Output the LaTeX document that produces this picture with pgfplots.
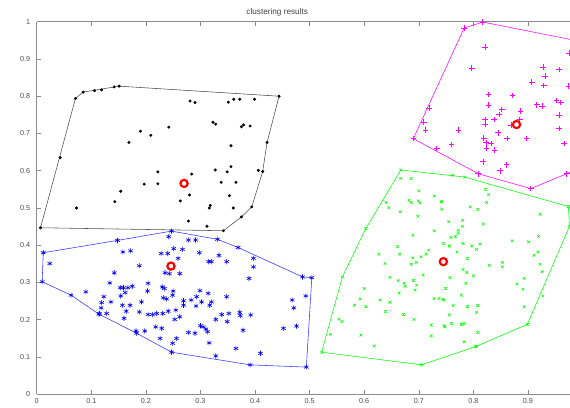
\documentclass[border=0pt]{standalone}
\usepackage{pgfplots}
\pgfplotsset{compat=1.18}
\usepackage{fontspec}
\setmainfont{Liberation Sans}
\definecolor{mlgreen}{RGB}{0,255,0}
\definecolor{mlmag}{RGB}{255,0,255}
\definecolor{mlblue}{RGB}{0,0,255}
\definecolor{mlred}{RGB}{255,0,0}
\begin{document}
\begin{tikzpicture}
\begin{axis}[
  scale only axis, width=533.3pt, height=372.6pt,
  xmin=0, xmax=0.977, ymin=0, ymax=1,
  axis x line*=box, axis y line*=left,
  xtick={0,0.1,0.2,0.3,0.4,0.5,0.6,0.7,0.8,0.9},
  ytick={0,0.1,0.2,0.3,0.4,0.5,0.6,0.7,0.8,0.9,1},
  tick align=inside, major tick length=4pt,
  axis line style={black!45, line width=0.6pt},
  tick style={black!45, line width=0.6pt},
  ticklabel style={font=\fontsize{7.2}{8}\selectfont, text=black!70},
  /pgf/number format/assume math mode=true,
  yticklabel style={xshift=-3pt},
  xticklabel style={yshift=-0.5pt},
  title={clustering results},
  title style={at={(0.451,1)}, anchor=base, yshift=1.3pt, font=\fontsize{8.2}{9}\selectfont, text=black!75},
  clip=true,
]
% ---------- black cluster ----------
\addplot[only marks, mark=*, mark size=1.3pt, black] coordinates {
(0.007,0.447)(0.071,0.794)(0.085,0.811)(0.106,0.815)(0.119,0.817)(0.142,0.825)(0.151,0.827)(0.444,0.800)(0.422,0.676)(0.414,0.598)(0.394,0.503)(0.375,0.476)(0.342,0.439)(0.312,0.451)
(0.043,0.635)(0.073,0.500)(0.281,0.787)(0.290,0.783)(0.351,0.784)(0.361,0.792)(0.372,0.792)(0.399,0.792)(0.190,0.706)(0.209,0.695)(0.242,0.717)(0.169,0.676)(0.323,0.730)(0.328,0.725)(0.375,0.718)(0.379,0.723)(0.391,0.720)(0.356,0.667)(0.406,0.601)(0.356,0.611)(0.327,0.602)(0.349,0.597)(0.284,0.591)(0.222,0.597)(0.222,0.565)(0.197,0.564)(0.338,0.569)(0.365,0.569)(0.154,0.545)(0.143,0.517)(0.280,0.535)(0.263,0.519)(0.353,0.533)(0.318,0.507)(0.316,0.500)(0.360,0.500)(0.278,0.465)
};
\addplot[black!70, line width=0.55pt, no marks] coordinates {
(0.007,0.447)(0.071,0.794)(0.085,0.811)(0.151,0.827)(0.444,0.800)(0.422,0.676)(0.414,0.598)(0.394,0.503)(0.375,0.476)(0.342,0.439)(0.007,0.447)
};
% ---------- blue cluster ----------
\addplot[only marks, mark=asterisk, mark size=2.6pt, mlblue, line width=0.6pt] coordinates {
(0.012,0.380)(0.010,0.302)(0.024,0.351)(0.063,0.266)(0.090,0.275)(0.114,0.215)(0.183,0.164)(0.247,0.113)(0.391,0.079)(0.494,0.073)(0.504,0.313)(0.487,0.315)(0.369,0.394)(0.331,0.416)(0.247,0.438)(0.148,0.413)
(0.158,0.382)(0.172,0.385)(0.188,0.345)(0.142,0.326)(0.134,0.299)(0.123,0.262)(0.119,0.246)(0.118,0.232)(0.115,0.217)(0.128,0.217)(0.136,0.248)(0.153,0.286)(0.159,0.286)(0.167,0.286)(0.175,0.290)(0.154,0.264)(0.162,0.273)(0.157,0.239)(0.171,0.239)(0.164,0.223)(0.160,0.204)(0.188,0.221)(0.192,0.248)(0.182,0.170)(0.198,0.170)(0.204,0.298)(0.203,0.277)(0.204,0.214)(0.212,0.214)(0.220,0.217)(0.231,0.217)(0.230,0.288)(0.234,0.284)(0.232,0.259)(0.238,0.256)(0.218,0.181)(0.229,0.177)(0.226,0.150)(0.249,0.137)(0.228,0.378)(0.240,0.378)(0.242,0.423)(0.251,0.391)(0.235,0.326)(0.243,0.324)(0.249,0.266)(0.250,0.277)(0.241,0.223)
(0.278,0.414)(0.291,0.414)(0.267,0.389)(0.259,0.365)(0.298,0.380)(0.334,0.373)(0.315,0.356)(0.320,0.356)(0.348,0.356)(0.397,0.365)(0.397,0.342)(0.389,0.311)(0.262,0.324)(0.299,0.278)(0.302,0.248)(0.314,0.271)(0.293,0.262)(0.292,0.237)(0.269,0.251)(0.269,0.239)(0.283,0.253)(0.317,0.239)(0.320,0.248)(0.348,0.262)(0.255,0.226)(0.262,0.208)(0.253,0.201)(0.339,0.214)(0.352,0.217)(0.372,0.220)(0.373,0.211)(0.392,0.213)(0.328,0.201)(0.349,0.195)(0.300,0.184)(0.305,0.181)(0.310,0.175)(0.313,0.168)(0.278,0.166)(0.290,0.164)(0.378,0.172)(0.256,0.150)(0.316,0.138)(0.365,0.123)(0.410,0.110)(0.328,0.103)(0.468,0.253)(0.471,0.232)(0.493,0.264)(0.452,0.177)(0.476,0.183)
};
\addplot[mlblue!80, line width=0.55pt, no marks] coordinates {
(0.012,0.380)(0.010,0.302)(0.063,0.266)(0.114,0.215)(0.183,0.164)(0.247,0.113)(0.391,0.079)(0.494,0.073)(0.504,0.313)(0.487,0.315)(0.369,0.394)(0.331,0.416)(0.247,0.438)(0.148,0.413)(0.012,0.380)
};
% ---------- green cluster ----------
\addplot[only marks, mark=x, mark size=1.9pt, mlgreen, line width=0.55pt] coordinates {
(0.667,0.602)(0.762,0.588)(0.784,0.583)(0.974,0.504)(0.976,0.451)(0.927,0.264)(0.899,0.188)(0.804,0.128)(0.705,0.079)(0.522,0.113)(0.560,0.315)(0.603,0.445)
(0.667,0.579)(0.686,0.579)(0.700,0.546)(0.728,0.532)(0.741,0.516)(0.742,0.497)(0.682,0.521)(0.686,0.515)(0.699,0.519)(0.702,0.514)(0.640,0.515)(0.645,0.501)(0.666,0.490)(0.698,0.478)(0.728,0.439)(0.689,0.427)(0.661,0.396)(0.665,0.376)(0.627,0.376)(0.638,0.351)(0.689,0.366)(0.695,0.354)(0.686,0.349)(0.704,0.369)(0.713,0.376)(0.718,0.387)(0.708,0.320)(0.662,0.305)(0.673,0.298)(0.675,0.290)(0.690,0.306)(0.696,0.293)(0.693,0.280)(0.647,0.314)(0.664,0.272)(0.600,0.284)(0.592,0.256)(0.603,0.235)(0.582,0.239)(0.629,0.253)(0.647,0.247)(0.639,0.222)(0.672,0.214)(0.691,0.201)(0.554,0.202)(0.559,0.195)(0.538,0.161)(0.594,0.159)(0.618,0.130)(0.723,0.186)(0.723,0.157)(0.728,0.257)(0.737,0.257)(0.744,0.255)(0.746,0.184)
(0.822,0.550)(0.828,0.536)(0.824,0.515)(0.794,0.503)(0.808,0.496)(0.742,0.518)(0.755,0.463)(0.780,0.467)(0.780,0.451)(0.772,0.440)(0.772,0.432)(0.767,0.423)(0.759,0.421)(0.818,0.457)(0.922,0.483)(0.745,0.405)(0.756,0.398)(0.781,0.405)(0.797,0.398)(0.812,0.403)(0.806,0.389)(0.770,0.382)(0.871,0.412)(0.901,0.409)(0.919,0.424)(0.918,0.382)(0.911,0.373)(0.789,0.365)(0.829,0.346)(0.853,0.354)(0.853,0.342)(0.781,0.335)(0.788,0.327)(0.800,0.318)(0.922,0.349)(0.926,0.329)(0.757,0.313)(0.786,0.298)(0.749,0.284)(0.893,0.311)(0.880,0.296)(0.891,0.282)(0.778,0.266)(0.746,0.253)(0.763,0.238)(0.789,0.235)(0.808,0.238)(0.806,0.220)(0.893,0.235)(0.756,0.213)(0.760,0.190)(0.748,0.181)(0.778,0.188)(0.783,0.190)(0.808,0.166)(0.783,0.141)(0.805,0.129)
};
\addplot[mlgreen, line width=0.55pt, no marks] coordinates {
(0.667,0.602)(0.784,0.583)(0.974,0.504)(0.976,0.451)(0.899,0.188)(0.804,0.128)(0.705,0.079)(0.522,0.113)(0.560,0.315)(0.603,0.445)(0.667,0.602)
};
% ---------- magenta cluster ----------
\addplot[only marks, mark=+, mark size=2.8pt, mlmag, line width=0.65pt] coordinates {
(0.690,0.686)(0.783,0.983)(0.817,0.999)(0.971,0.592)(0.905,0.552)(0.809,0.592)
(0.821,0.932)(0.797,0.876)(0.928,0.878)(0.957,0.872)(0.931,0.854)(0.907,0.838)(0.929,0.829)(0.974,0.827)(0.975,0.916)(0.828,0.805)(0.872,0.802)(0.952,0.789)(0.960,0.783)(0.828,0.776)(0.916,0.777)(0.926,0.774)(0.852,0.764)(0.847,0.751)(0.886,0.760)(0.957,0.749)(0.719,0.768)(0.838,0.738)(0.821,0.737)(0.821,0.725)(0.885,0.737)(0.869,0.722)(0.709,0.731)(0.712,0.709)(0.773,0.709)(0.845,0.702)(0.957,0.713)(0.819,0.688)(0.862,0.686)(0.897,0.686)(0.760,0.670)(0.823,0.675)(0.832,0.673)(0.966,0.673)(0.824,0.660)(0.839,0.655)(0.733,0.660)(0.818,0.624)(0.861,0.616)(0.849,0.600)
};
\addplot[mlmag, line width=0.55pt, no marks] coordinates {
(0.690,0.686)(0.783,0.983)(0.817,0.999)(1.02,0.940)(1.02,0.620)(0.971,0.592)(0.905,0.552)(0.809,0.592)(0.690,0.686)
};
% ---------- centres ----------
\addplot[only marks, mark=o, mark size=3.6pt, mlred, line width=2.2pt] coordinates {
(0.270,0.566)(0.246,0.344)(0.745,0.356)(0.879,0.724)
};
\path (rel axis cs:0,0) ++(-36.7pt,-12.7pt) coordinate (BL);
\path (rel axis cs:1,1) ++(0pt,21.7pt) coordinate (TR);
\end{axis}
\pgfresetboundingbox
\path (BL) rectangle (TR);
\end{tikzpicture}
\end{document}
